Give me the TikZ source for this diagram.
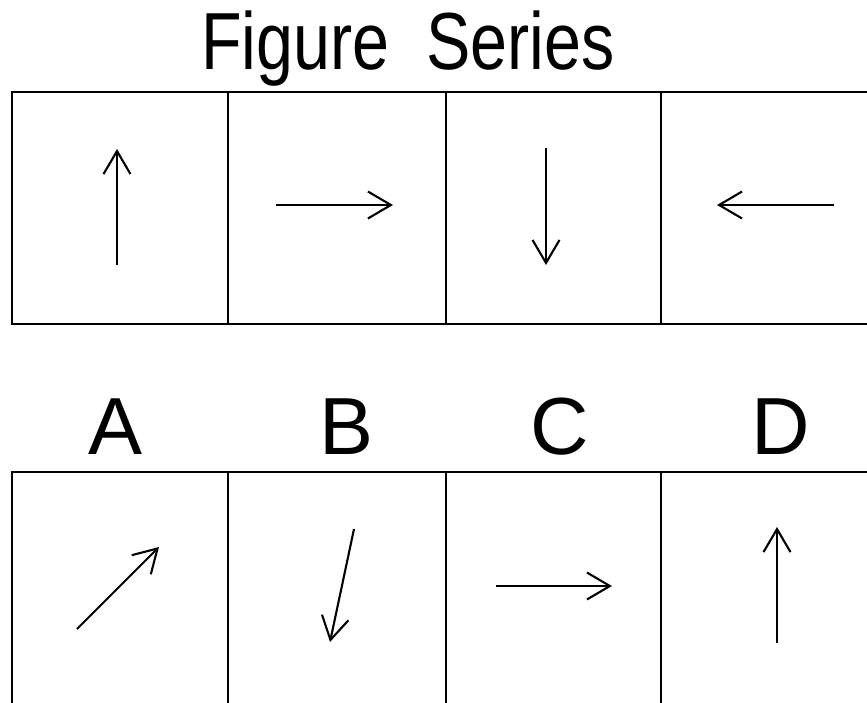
\documentclass[tikz,border=0pt]{standalone}
\usepackage{fontspec}
\setmainfont{Liberation Sans}
\newfontfamily\titlefont[FakeStretch=0.82]{Liberation Sans}
\usetikzlibrary{arrows.meta}
\tikzset{
  cell/.style={line width=2.8pt},
  arr/.style={line width=2.1pt,-{Straight Barb[length=23pt,width=27pt,line width=2.1pt]}},
  lab/.style={anchor=base,inner sep=0pt,font=\fontsize{81}{90}\selectfont},
}
\begin{document}
\begin{tikzpicture}[x=1pt,y=-1pt]
\useasboundingbox (0,0) rectangle (867,702);
\node[lab,font=\titlefont\fontsize{81}{90}\selectfont] (title) at (408,69) {Figure\ \ Series};
% top row
\draw[cell] (12,92) rectangle (880,324);
\draw[cell] (228,92) -- (228,324) (446,92) -- (446,324) (661,92) -- (661,324);
\coordinate (t1a) at (117,265); \coordinate (t1b) at (117,149);
\coordinate (t2a) at (276,205); \coordinate (t2b) at (393,205);
\coordinate (t3a) at (546,148); \coordinate (t3b) at (546,265);
\coordinate (t4a) at (834,205); \coordinate (t4b) at (717,205);
\draw[arr] (t1a) -- (t1b);
\draw[arr] (t2a) -- (t2b);
\draw[arr] (t3a) -- (t3b);
\draw[arr] (t4a) -- (t4b);
% labels
\node[lab] (A) at (115.5,454) {A};
\node[lab] (B) at (347,454) {B};
\node[lab] (C) at (560,454) {C};
\node[lab] (D) at (781,454) {D};
% bottom row
\draw[cell] (12,712) -- (12,472) -- (880,472);
\draw[cell] (228,472) -- (228,712) (446,472) -- (446,712) (661,472) -- (661,712);
\coordinate (b1a) at (77,629); \coordinate (b1b) at (159,547);
\coordinate (b2a) at (354,529); \coordinate (b2b) at (330,642);
\coordinate (b3a) at (496,586); \coordinate (b3b) at (612,586);
\coordinate (b4a) at (777,643); \coordinate (b4b) at (777,527);
\draw[arr] (b1a) -- (b1b);
\draw[arr] (b2a) -- (b2b);
\draw[arr] (b3a) -- (b3b);
\draw[arr] (b4a) -- (b4b);
\end{tikzpicture}
\end{document}
